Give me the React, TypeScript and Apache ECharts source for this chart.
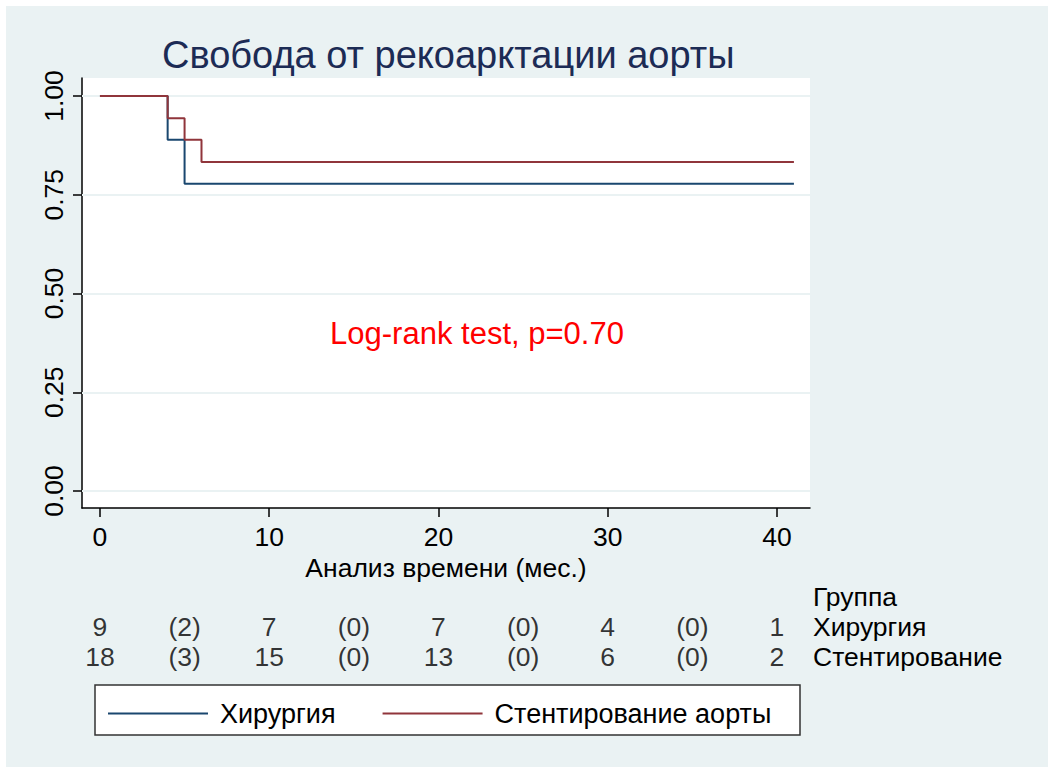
import React, { useEffect, useRef } from "react";
import * as echarts from "echarts";

const titleText = "Свобода от рекоарктации аорты";
const xAxisTitle = "Анализ времени (мес.)";
const annotation = "Log-rank test, p=0.70";

const seriesNames = ["Хирургия", "Стентирование аорты"];
const groupRows = ["Группа", "Хирургия", "Стентирование"];

// Kaplan-Meier step points [time, survival]
const surgeryTimes = [0, 4, 5, 41];
const surgerySurv = [1.0, 0.889, 0.778, 0.778];
const stentTimes = [0, 4, 5, 6, 41];
const stentSurv = [1.0, 0.944, 0.889, 0.833, 0.833];

const xTicks = [0, 10, 20, 30, 40];
const yTicks = [0, 0.25, 0.5, 0.75, 1.0];

// Number at risk table
const atRiskTimes = [0, 10, 20, 30, 40];
const surgeryAtRisk = [9, 7, 7, 4, 1];
const stentAtRisk = [18, 15, 13, 6, 2];
const eventMidTimes = [5, 15, 25, 35];
const surgeryEvents = [2, 0, 0, 0];
const stentEvents = [3, 0, 0, 0];

const BLUE = "#1a476f";
const RED = "#90353b";
const BG = "#eaf2f3";
const FONT = "Liberation Sans, Arial, Helvetica, sans-serif";
const FS = 26.5;

export default function App() {
  const ref = useRef<HTMLDivElement>(null);
  useEffect(() => {
    if (!ref.current) return;
    const chart = echarts.init(ref.current, undefined, { renderer: "svg" });
    const xMin = -1.06;
    const xMax = 41.95;

    const tableData = (times: number[], vals: number[], row: string, paren: boolean) =>
      times.map((t, i) => ({
        value: [t, row],
        label: { formatter: paren ? `(${vals[i]})` : `${vals[i]}` },
      }));

    const option: any = {
      animation: false,
      backgroundColor: "transparent",
      textStyle: { fontFamily: FONT },
      title: {
        text: titleText,
        left: 157,
        top: 31,
        textStyle: { fontSize: 38, fontWeight: "normal", color: "#1c2b55", fontFamily: FONT },
      },
      graphic: [
        {
          type: "rect",
          z: -10,
          shape: { x: 6, y: 6, width: 1042, height: 761 },
          style: { fill: BG },
          silent: true,
        },
        {
          type: "rect",
          z: -5,
          shape: { x: 95, y: 685, width: 705, height: 50 },
          style: { fill: "#ffffff", stroke: "#333333", lineWidth: 1.5 },
          silent: true,
        },
        {
          type: "text",
          x: 477,
          y: 333,
          style: {
            text: annotation,
            fill: "#ff0000",
            fontSize: 31,
            fontFamily: FONT,
            align: "center",
            verticalAlign: "middle",
          },
        },
      ],
      legend: {
        data: seriesNames,
        left: 103,
        top: 695,
        icon: "rect",
        itemWidth: 100,
        itemHeight: 2,
        itemGap: 47,
        textStyle: { fontSize: 27, color: "#000", fontFamily: FONT, padding: [0, 0, 0, 7] },
      },
      grid: [
        {
          left: 82,
          top: 78,
          width: 728,
          height: 430,
          show: true,
          backgroundColor: "#ffffff",
          borderWidth: 0,
        },
        {
          left: 82,
          top: 582,
          width: 728,
          height: 90,
          show: false,
        },
      ],
      xAxis: [
        {
          type: "value",
          gridIndex: 0,
          min: xMin,
          max: xMax,
          name: xAxisTitle,
          nameLocation: "middle",
          nameGap: 46,
          nameTextStyle: { fontSize: FS, color: "#000", fontFamily: FONT },
          axisLine: { show: true, onZero: false, lineStyle: { color: "#000", width: 1.5 } },
          axisTick: { show: true, length: 9, customValues: xTicks, lineStyle: { color: "#000", width: 1.5 } },
          axisLabel: { customValues: xTicks, fontSize: FS, color: "#000", margin: 15, fontFamily: FONT },
          splitLine: { show: false },
        },
        {
          type: "value",
          gridIndex: 1,
          min: xMin,
          max: xMax,
          show: false,
        },
      ],
      yAxis: [
        {
          type: "value",
          gridIndex: 0,
          min: -0.043,
          max: 1.0456,
          axisLine: { show: true, onZero: false, lineStyle: { color: "#000", width: 1.5 } },
          axisTick: { show: true, length: 9, customValues: yTicks, lineStyle: { color: "#000", width: 1.5 } },
          axisLabel: {
            customValues: yTicks,
            rotate: 90,
            fontSize: FS,
            color: "#000",
            margin: 15,
            fontFamily: FONT,
            formatter: (v: number) => v.toFixed(2),
          },
          splitLine: { show: false },
        },
        {
          type: "category",
          gridIndex: 1,
          data: groupRows,
          inverse: true,
          position: "right",
          axisLine: { show: false },
          axisTick: { show: false },
          axisLabel: {
            interval: 0,
            hideOverlap: false,
            fontSize: FS,
            color: "#000",
            align: "left",
            margin: 3,
            fontFamily: FONT,
          },
          splitLine: { show: false },
        },
      ],
      series: [
        {
          name: seriesNames[0],
          type: "line",
          step: "end",
          xAxisIndex: 0,
          yAxisIndex: 0,
          symbol: "none",
          color: BLUE,
          lineStyle: { color: BLUE, width: 2 },
          data: surgeryTimes.map((t, i) => [t, surgerySurv[i]]),
          z: 3,
          markLine: {
            silent: true,
            symbol: "none",
            label: { show: false },
            lineStyle: { color: BG, width: 2, type: "solid" },
            data: yTicks.map((y) => ({ yAxis: y })),
            z: 1,
          },
        },
        {
          name: seriesNames[1],
          type: "line",
          step: "end",
          xAxisIndex: 0,
          yAxisIndex: 0,
          symbol: "none",
          color: RED,
          lineStyle: { color: RED, width: 2 },
          data: stentTimes.map((t, i) => [t, stentSurv[i]]),
          z: 4,
        },
        {
          type: "scatter",
          xAxisIndex: 1,
          yAxisIndex: 1,
          symbolSize: 0,
          silent: true,
          label: { show: true, position: "inside", fontSize: FS, color: "#000", fontFamily: FONT },
          data: [
            ...tableData(atRiskTimes, surgeryAtRisk, groupRows[1], false),
            ...tableData(eventMidTimes, surgeryEvents, groupRows[1], true),
            ...tableData(atRiskTimes, stentAtRisk, groupRows[2], false),
            ...tableData(eventMidTimes, stentEvents, groupRows[2], true),
          ],
        },
      ],
    };
    chart.setOption(option);
    return () => chart.dispose();
  }, []);
  return (
    <div
      ref={ref}
      style={{ position: "fixed", left: 0, top: 0, width: 1048, height: 767, background: "#ffffff" }}
    />
  );
}
